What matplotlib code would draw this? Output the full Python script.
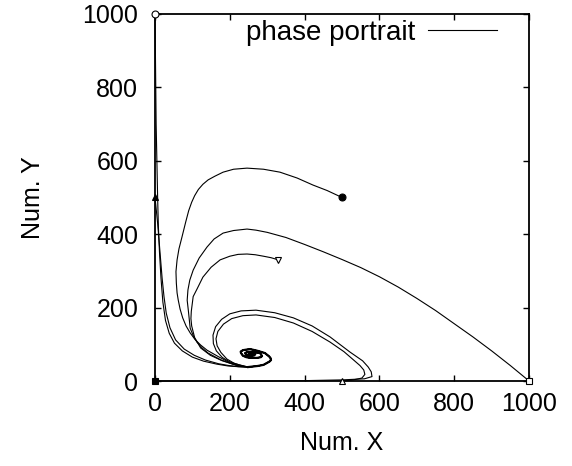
import numpy as np
import matplotlib
matplotlib.use("Agg")
import matplotlib.pyplot as plt

plt.rcParams['font.family'] = ['Liberation Sans', 'DejaVu Sans']

# spiral around the equilibrium, shared by all trajectories once they get there
tail_x = [249, 275, 290, 299, 306, 310, 309, 305, 294, 275, 254, 235, 229, 230, 235, 244, 254, 273, 283,
          286, 281, 262, 246, 241, 243, 254, 265, 268, 265, 254, 250, 256, 260, 257]
tail_y = [38, 41, 44, 49, 53, 57, 62, 67, 76, 82, 87, 84, 80, 76, 69, 65, 63, 63, 65,
          68, 76, 79, 79, 76, 72, 68, 70, 73, 76, 76, 73, 71, 73, 74]

# start of each trajectory
traj_circle_x = [0, 1, 2, 3, 5, 7, 9, 12, 16, 21, 28, 38, 52, 73, 100, 130, 165, 195, 222]
traj_circle_y = [1000, 900, 800, 700, 600, 500, 420, 350, 280, 215, 165, 130, 103, 82, 65, 54, 46, 41, 39]

traj_tri_x = [0, 3, 7, 11, 15, 19, 24, 30, 40, 55, 78, 105, 135, 170, 198, 224]
traj_tri_y = [500, 470, 430, 380, 330, 280, 230, 185, 145, 112, 87, 70, 57, 47, 42, 39]

traj_dot_x = [500, 460, 422, 380, 334, 290, 246, 210, 182, 160, 142, 128, 116, 106, 98, 90, 82, 72, 64,
              59, 56, 57, 59, 62, 67, 74, 83, 94, 107, 122, 139, 170, 200, 224]
traj_dot_y = [500, 519, 534, 553, 569, 577, 580, 577, 569, 558, 548, 536, 522, 505, 487, 464, 433, 392, 360,
              330, 298, 267, 240, 221, 196, 172, 150, 131, 113, 98, 84, 66, 50, 40]

traj_sq_x = [1000, 950, 900, 850, 800, 750, 700, 650, 600, 550, 500, 450, 400, 350, 300, 270, 246, 210,
             182, 158, 139, 118, 102, 93, 88, 86, 89, 94, 102, 112, 126, 142, 175, 205, 226]
traj_sq_y = [0, 42, 82, 120, 156, 192, 225, 256, 284, 309, 331, 352, 372, 391, 405, 411, 414, 410,
             403, 387, 365, 335, 302, 275, 248, 220, 193, 144, 124, 106, 90, 76, 58, 47, 41]

traj_dtri_x = [330, 310, 290, 268, 246, 222, 200, 174, 150, 128, 112, 102, 97, 96, 98, 106, 122, 148,
               180, 208, 228]
traj_dtri_y = [330, 336, 340, 344, 346, 345, 340, 330, 310, 283, 250, 230, 190, 170, 150, 118, 90, 70,
               55, 46, 41]

traj_utri_x = [500, 530, 553, 561, 558, 548, 530, 505, 468, 420, 370, 320, 270, 235, 205, 183, 168,
               163, 166, 176, 192, 212, 232]
traj_utri_y = [0, 3, 8, 18, 30, 42, 58, 80, 106, 135, 158, 173, 180, 178, 170, 155, 135,
               115, 96, 78, 60, 48, 42]

traj_origin_x = [0, 100, 200, 300, 400, 500, 560, 580, 578, 570, 555, 521, 468, 420, 370, 320, 270,
                 230, 200, 178, 162, 155, 156, 164, 180, 200, 225]
traj_origin_y = [0, 0, 0, 0, 1, 3, 6, 12, 25, 38, 55, 79, 120, 150, 172, 186, 193,
                 191, 183, 168, 148, 125, 102, 82, 64, 52, 44]

trajectories = [
    (traj_circle_x, traj_circle_y, 'o', 'white'),
    (traj_tri_x, traj_tri_y, '^', 'black'),
    (traj_dot_x, traj_dot_y, 'o', 'black'),
    (traj_sq_x, traj_sq_y, 's', 'white'),
    (traj_dtri_x, traj_dtri_y, 'v', 'white'),
    (traj_utri_x, traj_utri_y, '^', 'white'),
    (traj_origin_x, traj_origin_y, 's', 'black'),
]

fig = plt.figure(figsize=(5.72, 4.66), dpi=100)
ax = fig.add_axes([0.271, 0.1824, 0.654, 0.7876])

for i, (xs, ys, mk, fc) in enumerate(trajectories):
    px = list(xs) + tail_x
    py = list(ys) + tail_y
    ax.plot(px, py, color='black', lw=0.8, label='phase portrait' if i == 0 else None,
            clip_on=False, zorder=3)
    ax.plot(xs[0], ys[0], marker=mk, ms=5, mfc=fc, mec='black', mew=0.8,
            clip_on=False, zorder=4)

# the spiral is where all the curves pile up, so it reads darker
ax.plot(tail_x, tail_y, color='black', lw=1.6, zorder=3)

ax.set_xlim(0, 1000)
ax.set_ylim(0, 1000)
ax.set_xticks(np.arange(0, 1001, 200))
ax.set_yticks(np.arange(0, 1001, 200))
ax.tick_params(direction='in', length=4.5, width=1, top=True, right=True, labelsize=18)
ax.tick_params(axis='y', pad=12)
ax.tick_params(axis='x', pad=8)
for s in ax.spines.values():
    s.set_linewidth(1.3)

ax.set_xlabel('Num. X', fontsize=18, labelpad=11)
ax.set_ylabel('Num. Y', fontsize=18, labelpad=27)

ax.legend(loc='center right', bbox_to_anchor=(497 / 572, 1 - 33 / 466), bbox_transform=fig.transFigure,
          frameon=False, markerfirst=False, fontsize=20, handlelength=2.5, handletextpad=0.45,
          borderpad=0, borderaxespad=0)

fig.savefig('out.png', dpi=100)
